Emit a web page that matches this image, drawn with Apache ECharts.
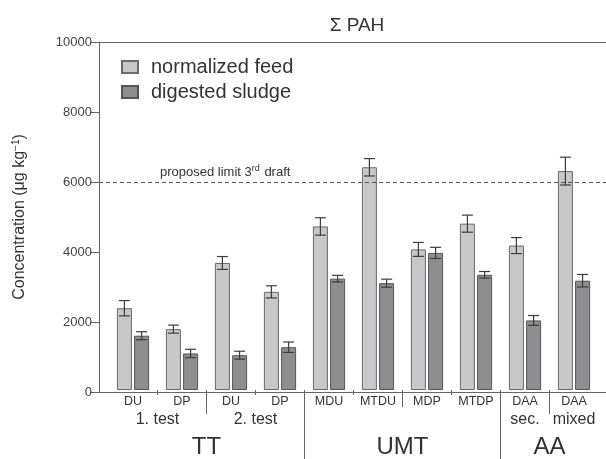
<!DOCTYPE html>
<html><head><meta charset="utf-8">
<script src="https://cdn.jsdelivr.net/npm/echarts@6/dist/echarts.min.js"></script>
<style>html,body{margin:0;padding:0;background:#fff}#c{width:606px;height:459px}</style>
</head><body><div id="c"></div>
<script>
const categories = ['DU','DP','DU','DP','MDU','MTDU','MDP','MTDP','DAA','DAA'];
const feed      = [2350,1750,3650,2820,4700,6400,4040,4780,4150,6290];
const feedErr   = [220,115,185,175,250,250,200,245,230,400];
const sludge    = [1560,1050,1000,1230,3200,3070,3940,3310,2000,3140];
const sludgeErr = [115,120,115,150,95,115,160,95,140,180];
const yTickLabels = [0,2000,4000,6000,8000,10000];
const limitValue = 6000;
// sub-group labels: [label, first category, last category]
const subGroups = [['1. test',0,1],['2. test',2,3],['sec.',8,8],['mixed',9,9]];
const mainGroups = [['TT',0,3],['UMT',4,7],['AA',8,9]];
// separator level at boundary before category i: 1 short, 2 medium, 3 long, 4 full
const sepLevels = [0,1,3,1,4,1,2,1,4,3];

const N = categories.length;
function slots(groups){
  const a = new Array(2*N+1).fill('');
  groups.forEach(g=>{ a[g[1]+g[2]+1] = g[0]; });
  return a;
}
const slotData = slots([]);
const subSlots = slots(subGroups);
const mainSlots = slots(mainGroups);
function tickAt(level){ return (idx)=> idx%2===0 && idx>0 && idx<2*N && sepLevels[idx/2]===level; }

const FONT = 'Liberation Sans, Arial, sans-serif';
const TXT = '#333';
const AX = '#666';
const BW = 15, GAP = 2.2;

function errItem(off){
  return function(params, api){
    const x = api.value(0), y = api.value(1), e = api.value(2);
    const hi = api.coord([x, y+e]), lo = api.coord([x, y-e]);
    const cx = hi[0] + off*(BW+GAP)/2;
    const hw = 5.5;
    const st = {stroke:'#3c3c3c', lineWidth:1.2};
    return {type:'group', children:[
      {type:'line', shape:{x1:cx,y1:hi[1],x2:cx,y2:lo[1]}, style:st},
      {type:'line', shape:{x1:cx-hw,y1:hi[1],x2:cx+hw,y2:hi[1]}, style:st},
      {type:'line', shape:{x1:cx-hw,y1:lo[1],x2:cx+hw,y2:lo[1]}, style:st}
    ]};
  };
}

function tickAxis(level, len, labels, fs, margin){
  return {type:'category', gridIndex:0, position:'bottom', boundaryGap:false, data: labels || slotData,
    axisLine:{show:false},
    axisTick:{show:true, length:len, interval: tickAt(level), lineStyle:{color:AX, width:1}},
    axisLabel:{show: !!labels, interval:0, fontSize: fs||12, color:TXT, fontFamily:FONT, margin: margin||0},
    splitLine:{show:false}};
}

const chart = echarts.init(document.getElementById('c'), null, {renderer:'canvas'});
chart.setOption({
  animation:false,
  textStyle:{fontFamily:FONT},
  title:{text:'Σ PAH', left:352, top:11, textAlign:'center',
    textStyle:{fontSize:19, fontWeight:'normal', color:TXT, fontFamily:FONT}},
  legend:{orient:'vertical', left:116, top:52, itemWidth:16, itemHeight:12, itemGap:5,
    icon:'rect', data:['normalized feed','digested sludge'],
    textStyle:{fontSize:20, color:TXT, fontFamily:FONT, padding:[0,0,0,8]}},
  grid:[{left:108.5, right:7.5, top:42, bottom:67},{left:99, right:0, top:42, bottom:67}],
  xAxis:[
    {type:'category', gridIndex:0, data:categories, axisLine:{show:false}, axisTick:{show:false},
      axisLabel:{interval:0, fontSize:12.5, color:TXT, fontFamily:FONT, margin:5}},
    tickAxis(1, 5, subSlots, 16, 22),
    tickAxis(3, 24, mainSlots, 24, 45),
    tickAxis(2, 17),
    tickAxis(4, 70),
    {type:'value', gridIndex:1, min:0, max:1, position:'bottom', axisLine:{show:true, lineStyle:{color:AX}},
      axisTick:{show:false}, axisLabel:{show:false}, splitLine:{show:false}},
    {type:'value', gridIndex:1, min:0, max:1, position:'top', axisLine:{show:true, lineStyle:{color:AX}},
      axisTick:{show:false}, axisLabel:{show:false}, splitLine:{show:false}}
  ],
  yAxis:[
    {type:'value', gridIndex:0, min:yTickLabels[0], max:yTickLabels[yTickLabels.length-1], show:false},
    {type:'value', gridIndex:1, min:yTickLabels[0], max:yTickLabels[yTickLabels.length-1],
      interval:yTickLabels[1]-yTickLabels[0],
      axisLine:{show:true, lineStyle:{color:AX}},
      axisTick:{show:true, length:9, lineStyle:{color:AX}},
      axisLabel:{fontSize:13, color:'#444', fontFamily:FONT, margin:7, formatter:(v)=>String(v)},
      splitLine:{show:false},
      name:'Concentration (μg kg{sup|−1})', nameLocation:'middle', nameRotate:90, nameGap:70,
      nameTextStyle:{fontSize:16, color:TXT, fontFamily:FONT,
        rich:{sup:{fontSize:10, padding:[0,0,8,0], color:TXT, fontFamily:FONT}}}}
  ],
  series:[
    {name:'normalized feed', type:'bar', xAxisIndex:0, yAxisIndex:0, data:feed, barWidth:BW, barGap:(GAP/BW*100)+'%',
      itemStyle:{color:'#c8c8ca', borderColor:'#6a6a6a', borderWidth:1}},
    {name:'digested sludge', type:'bar', xAxisIndex:0, yAxisIndex:0, data:sludge, barWidth:BW,
      itemStyle:{color:'#8e8e91', borderColor:'#555', borderWidth:1}},
    {type:'custom', xAxisIndex:0, yAxisIndex:0, renderItem:errItem(-1), z:5,
      data: feed.map((v,i)=>[i,v,feedErr[i]])},
    {type:'custom', xAxisIndex:0, yAxisIndex:0, renderItem:errItem(1), z:5,
      data: sludge.map((v,i)=>[i,v,sludgeErr[i]])},
    {type:'line', xAxisIndex:5, yAxisIndex:1, data:[], silent:true,
      markLine:{silent:true, symbol:'none', animation:false,
        lineStyle:{type:[4,3], color:'#555', width:1},
        label:{position:'insideStartTop', distance:[61,2], fontSize:13, color:TXT, fontFamily:FONT,
          formatter:'proposed limit 3{sup|rd} draft',
          rich:{sup:{fontSize:9, padding:[0,1,7,0], color:TXT, fontFamily:FONT}}},
        data:[{yAxis:limitValue}]}}
  ]
});
</script></body></html>
